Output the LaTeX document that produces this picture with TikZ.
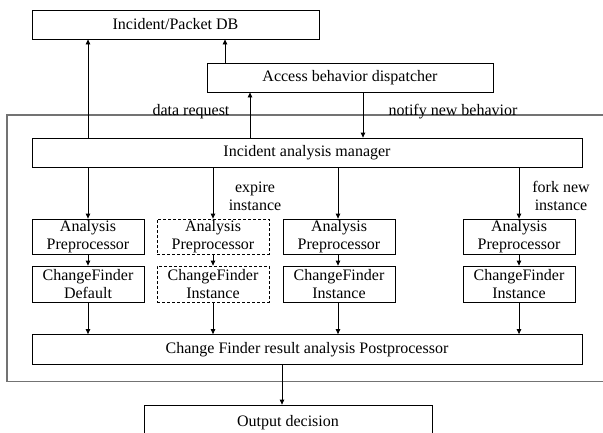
\documentclass[tikz,border=0pt]{standalone}
\usepackage{fontspec}
\setmainfont{Liberation Serif}
\usetikzlibrary{arrows.meta}
\begin{document}
\begin{tikzpicture}[x=1bp,y=-1bp,
  font=\fontsize{16bp}{18bp}\selectfont,
  box/.style={draw=black,line width=0.8bp,inner sep=0pt,align=center,text=black},
  dbox/.style={box,dashed,dash pattern=on 3bp off 2bp},
  arr/.style={draw=black,line width=0.8bp,-{Triangle[length=5bp,width=4.5bp]}},
  lbl/.style={inner sep=0pt,align=center,text=black},
  frame/.style={draw=black!55,line width=1.3bp}]
\useasboundingbox (0,0) rectangle (603,432);
% outer frame (open on the right)
\draw[frame] (603,115) -- (7,115) -- (7,381.5) -- (603,381.5);
% nodes
\node[box,minimum width=287bp,minimum height=29bp] (db) at (175.5,24.5) {Incident/Packet DB};
\node[box,minimum width=286bp,minimum height=29bp] (disp) at (350,77.5) {Access behavior dispatcher};
\node[box,minimum width=550bp,minimum height=29bp] (mgr) at (307,152.5) {Incident analysis manager};
\node[box,minimum width=112bp,minimum height=35bp] (pre1) at (88,236.5) {Analysis\\Preprocessor};
\node[dbox,minimum width=112bp,minimum height=35bp] (pre2) at (213,236.5) {Analysis\\Preprocessor};
\node[box,minimum width=112bp,minimum height=35bp] (pre3) at (339,236.5) {Analysis\\Preprocessor};
\node[box,minimum width=112bp,minimum height=35bp] (pre4) at (519,236.5) {Analysis\\Preprocessor};
\node[box,minimum width=112bp,minimum height=36bp] (cf1) at (88,284) {ChangeFinder\\Default};
\node[dbox,minimum width=112bp,minimum height=36bp] (cf2) at (213,284) {ChangeFinder\\Instance};
\node[box,minimum width=112bp,minimum height=36bp] (cf3) at (339,284) {ChangeFinder\\Instance};
\node[box,minimum width=112bp,minimum height=36bp] (cf4) at (519,284) {ChangeFinder\\Instance};
\node[box,minimum width=550bp,minimum height=30bp] (post) at (307,349.5) {Change Finder result analysis Postprocessor};
\node[box,minimum width=288bp,minimum height=36bp] (out) at (288,423) {Output decision};
% column coordinates
\coordinate (c1) at (88,0);
\coordinate (c2) at (213,0);
\coordinate (c3) at (338,0);
\coordinate (c4) at (519,0);
\coordinate (cdb) at (225,0);
\coordinate (cup) at (250,0);
\coordinate (cdn) at (363,0);
\coordinate (cout) at (282,0);
% connectors
\draw[arr] (mgr.north -| c1) -- (db.south -| c1);
\draw[arr] (disp.north -| cdb) -- (db.south -| cdb);
\draw[arr] (mgr.north -| cup) -- (disp.south -| cup);
\draw[arr] (disp.south -| cdn) -- (mgr.north -| cdn);
\foreach \i in {1,2,3,4}{
  \draw[arr] (mgr.south -| c\i) -- (pre\i.north -| c\i);
  \draw[arr] (pre\i.south -| c\i) -- (cf\i.north -| c\i);
  \draw[arr] (cf\i.south -| c\i) -- (post.north -| c\i);
}
\draw[arr] (post.south -| cout) -- (out.north -| cout);
% labels
\node[lbl,anchor=base] (l1) at (191,115) {data request};
\node[lbl,anchor=base] (l2) at (453,115) {notify new behavior};
\node[lbl,anchor=base] (l3) at (255,210) {expire\\instance};
\node[lbl,anchor=base] (l4) at (561,210) {fork new\\instance};
\end{tikzpicture}
\end{document}
